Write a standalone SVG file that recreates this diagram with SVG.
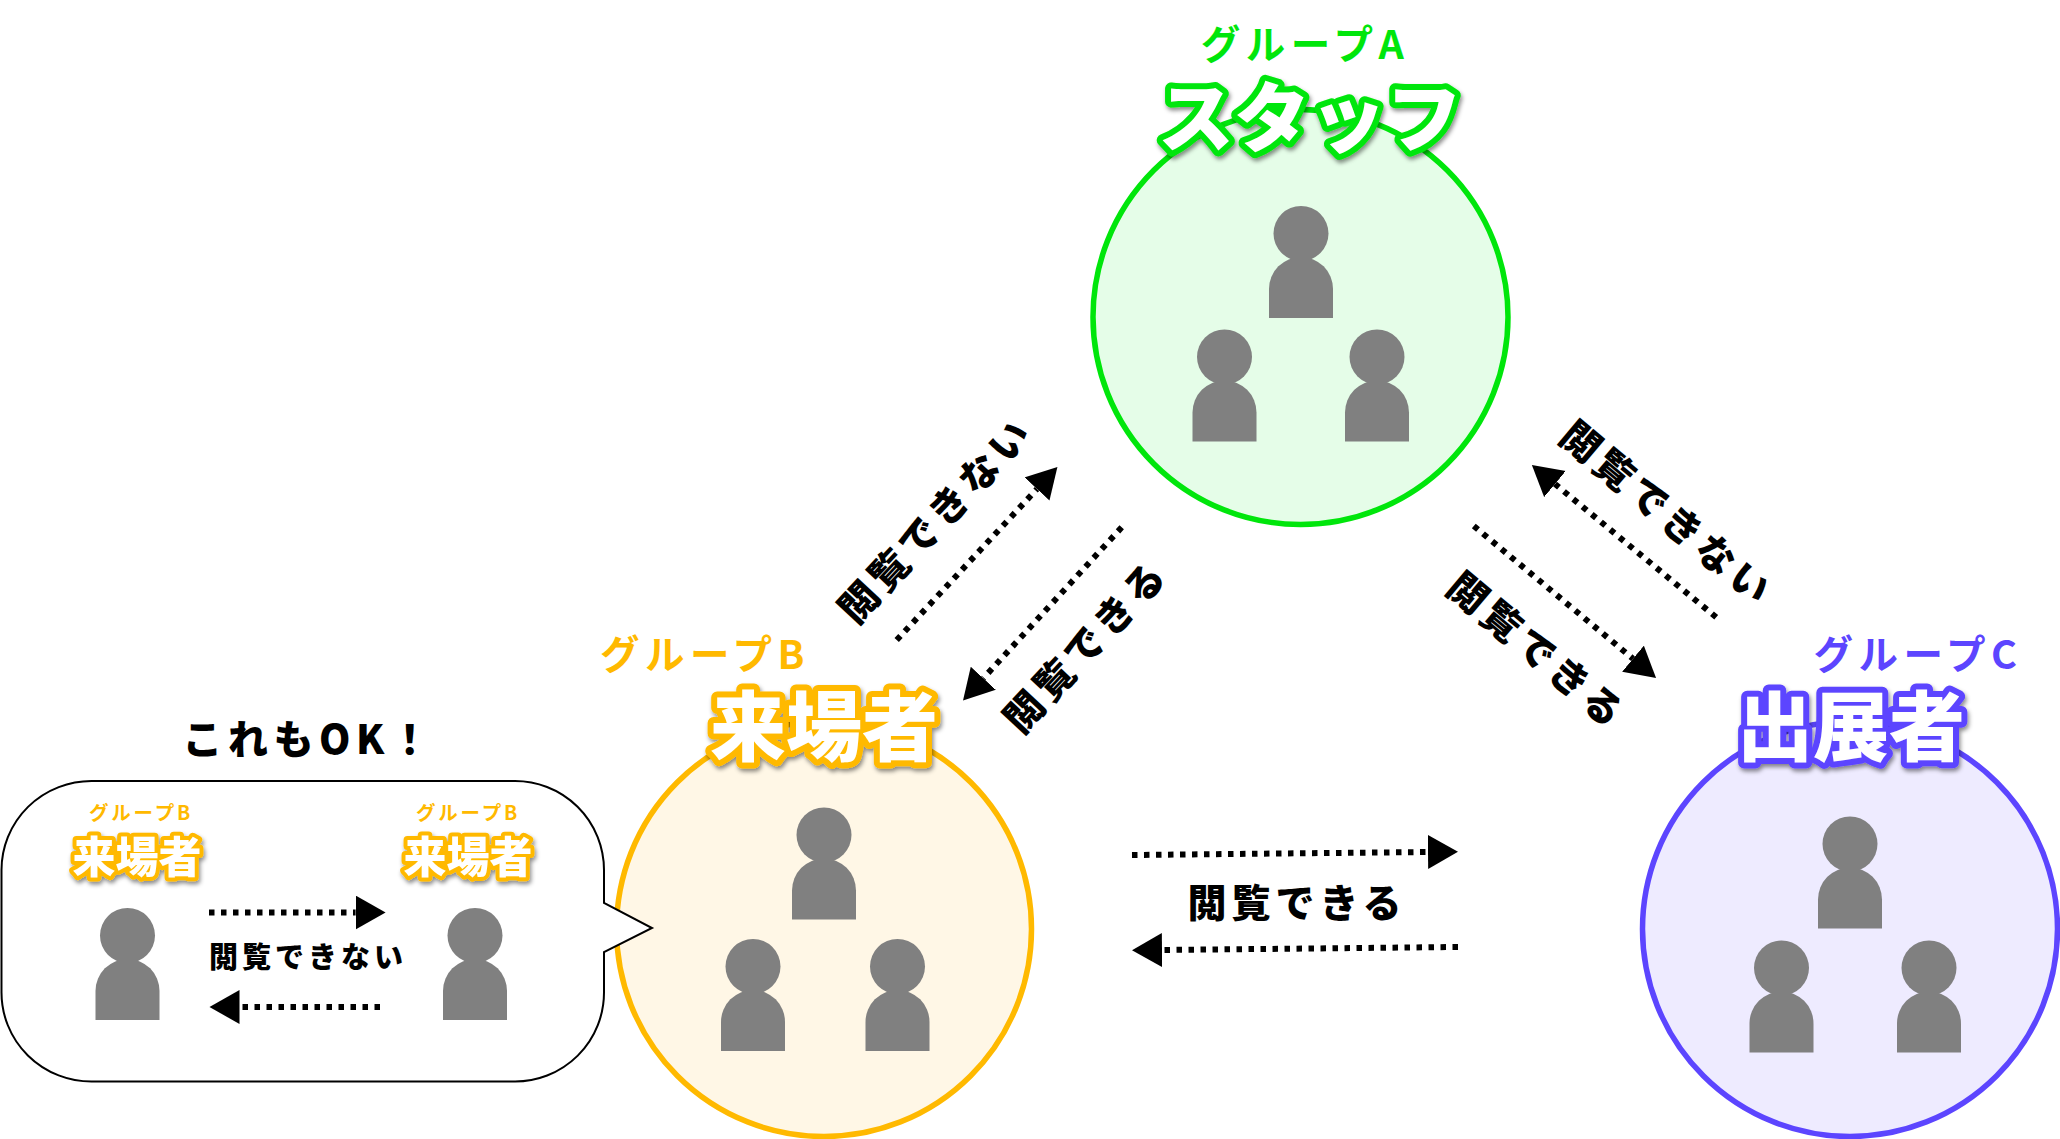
<svg xmlns="http://www.w3.org/2000/svg" width="2060" height="1139" viewBox="0 0 2060 1139">
<style>
text{font-family:"Noto Sans CJK JP","Noto Sans",sans-serif;font-weight:700;text-anchor:middle}
.lbl{font-size:39px;letter-spacing:5px;fill:#000;font-weight:900}
.lbls{font-size:29px;letter-spacing:4px;fill:#000;font-weight:900}
.ok{font-size:40px;letter-spacing:5.5px;fill:#000;font-weight:900}
.grp{font-size:39.5px;letter-spacing:5.5px}
.grps{font-size:19.5px;letter-spacing:2.8px}
.grp.a{fill:#00e60b}.grp.b,.grps.b{fill:#ffb900}.grp.c{fill:#5c45ff}
.ttl{font-size:76px;font-weight:900;fill:#fff;stroke-width:12px;stroke-linejoin:round;paint-order:stroke;filter:url(#sh)}
.ttls{font-size:43px;font-weight:900;fill:#fff;stroke-width:8px;stroke-linejoin:round;paint-order:stroke;filter:url(#sh)}
.sa{stroke:#00e60b}.sb{stroke:#ffb900}.sc{stroke:#5c45ff}
.ca{fill:#e5fde8;stroke:#00e60b}.cb{fill:#fff7e6;stroke:#ffb900}.cc{fill:#eeebff;stroke:#5c45ff}
circle.big{stroke-width:5.5px}
.arr{fill:none;stroke:#000;stroke-width:6px;stroke-dasharray:5.5 6.5;marker-end:url(#ah)}
.p{fill:#808080}
</style>
<defs>
<filter id="sh" x="-20%" y="-20%" width="140%" height="140%"><feDropShadow dx="1.5" dy="3" stdDeviation="2" flood-color="#000" flood-opacity="0.45"/></filter>
<marker id="ah" markerUnits="userSpaceOnUse" markerWidth="31" markerHeight="36" refX="0" refY="17" orient="auto"><path d="M0 0L30 17L0 34Z" fill="#000"/></marker>
<g id="person" class="p"><circle cx="0" cy="0" r="27.5"/><path d="M-32 84.5V55.5A32 32 0 0 1 32 55.5V84.5Z"/></g>
</defs>
<rect width="2060" height="1139" fill="#fff"/>
<g id="group-a">
<circle class="big ca" cx="1300.5" cy="317" r="207.5"/>
<use href="#person" x="1301" y="233.5"/><use href="#person" x="1224.5" y="357"/><use href="#person" x="1377" y="357"/>
<text class="grp a" x="1305" y="59">グループA</text>
<text class="ttl sa" x="1310" y="146">スタッフ</text>
</g>
<g id="group-b">
<circle class="big cb" cx="824" cy="929" r="207.5"/>
<use href="#person" x="824" y="835"/><use href="#person" x="753" y="966.5"/><use href="#person" x="897.5" y="966.5"/>
<text class="grp b" x="705" y="669">グループB</text>
<text class="ttl sb" x="824" y="755">来場者</text>
</g>
<g id="group-c">
<circle class="big cc" cx="1850" cy="929" r="207.5"/>
<use href="#person" x="1850" y="844"/><use href="#person" x="1781.5" y="968"/><use href="#person" x="1929" y="968"/>
<text class="grp c" x="1918" y="669">グループC</text>
<text class="ttl sc" x="1851" y="755">出展者</text>
</g>
<g id="callout">
<path d="M92 781H514A89 89 0 0 1 604 870V903L652 928L604 952V992A89 89 0 0 1 514 1081.5H92A90 89 0 0 1 1.5 992V870A90 89 0 0 1 92 781Z" fill="#fff" stroke="#000" stroke-width="2"/>
<text class="ok" x="309" y="754">これもOK！</text>
<g id="callout-left">
<use href="#person" x="127.5" y="935.5"/>
<text class="grps b" x="141" y="820">グループB</text>
<text class="ttls sb" x="137" y="873">来場者</text>
</g>
<g id="callout-right">
<use href="#person" x="475" y="935.5"/>
<text class="grps b" x="468" y="820">グループB</text>
<text class="ttls sb" x="468" y="873">来場者</text>
</g>
<text class="lbls" x="308" y="968">閲覧できない</text>
</g>
<g id="connectors">
<path class="arr" d="M209 912.5H355.6"/>
<path class="arr" d="M380 1007H239.5"/>
<path class="arr" d="M1132 855L1428 852"/>
<path class="arr" d="M1458 947L1162 950"/>
<path class="arr" d="M896.7 640L1037 489"/>
<path class="arr" d="M1121.7 527.3L983.3 678.3"/>
<path class="arr" d="M1716.2 617.3L1555 484"/>
<path class="arr" d="M1473.8 526L1633 658.7"/>
</g>
<g id="labels">
<text class="lbl" x="1297" y="917">閲覧できる</text>
<text class="lbl" transform="translate(936 520) rotate(-47)" y="14">閲覧できない</text>
<text class="lbl" transform="translate(1086 646) rotate(-47)" y="14">閲覧できる</text>
<text class="lbl" transform="translate(1667 514) rotate(40)" y="14">閲覧できない</text>
<text class="lbl" transform="translate(1537 651) rotate(40)" y="14">閲覧できる</text>
</g>
</svg>
